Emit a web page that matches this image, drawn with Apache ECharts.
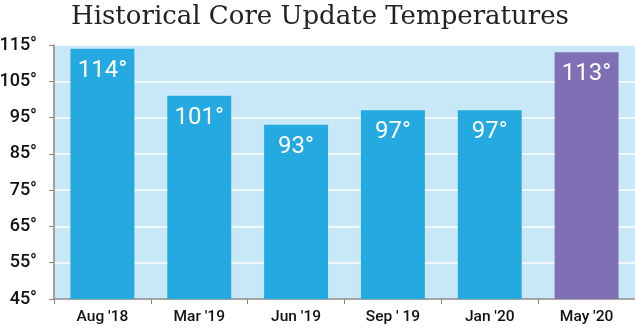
<!DOCTYPE html>
<html>
<head>
<meta charset="utf-8">
<script src="https://cdn.jsdelivr.net/npm/echarts@6/dist/echarts.min.js"></script>
<style>
  html, body { margin: 0; padding: 0; background: #fff; }
  #chart { width: 635px; height: 328px; }
</style>
</head>
<body>
<div id="chart"></div>
<script>
// Core update temperatures by release
const categories = ["Aug '18", "Mar '19", "Jun '19", "Sep ' 19", "Jan '20", "May '20"];
const temperatures = [114, 101, 93, 97, 97, 113];
const barColors = ['#24AAE1', '#24AAE1', '#24AAE1', '#24AAE1', '#24AAE1', '#7F70B5'];

const chart = echarts.init(document.getElementById('chart'), null, { renderer: 'canvas' });

chart.setOption({
  animation: false,
  title: {
    text: 'Historical Core Update Temperatures',
    left: 315,
    textAlign: 'center',
    top: -1,
    textStyle: {
      fontFamily: 'DejaVu Serif',
      fontWeight: 'normal',
      fontSize: 26,
      color: '#222'
    }
  },
  grid: {
    left: 54,
    right: 0,
    top: 45,
    bottom: 29,
    outerBoundsMode: 'none',
    containLabel: false,
    show: true,
    backgroundColor: '#C8E8F8',
    borderWidth: 0
  },
  xAxis: {
    type: 'category',
    data: categories,
    axisLine: { lineStyle: { color: '#888', width: 1.5 } },
    axisTick: { show: true, length: 5, lineStyle: { color: '#888' } },
    axisLabel: {
      fontFamily: 'Roboto',
      fontWeight: 500,
      fontSize: 15.5,
      color: '#111',
      margin: 10
    }
  },
  yAxis: {
    type: 'value',
    min: 45,
    max: 115,
    interval: 10,
    axisLine: { show: true, lineStyle: { color: '#888', width: 1.5 } },
    axisTick: { show: true, length: 5, lineStyle: { color: '#888' } },
    splitLine: { show: true, lineStyle: { color: '#fff', width: 1.5 } },
    axisLabel: {
      formatter: '{value}°',
      fontFamily: 'Roboto',
      fontWeight: 500,
      fontSize: 18,
      color: '#111',
      margin: 17
    }
  },
  series: [{
    type: 'bar',
    data: temperatures.map((v, i) => ({ value: v, itemStyle: { color: barColors[i] } })),
    barCategoryGap: '34%',
    label: {
      show: true,
      position: 'insideTop',
      distance: 10,
      formatter: '{c}°',
      fontFamily: 'Roboto',
      fontSize: 24,
      color: '#fff'
    }
  }]
});
</script>
</body>
</html>
